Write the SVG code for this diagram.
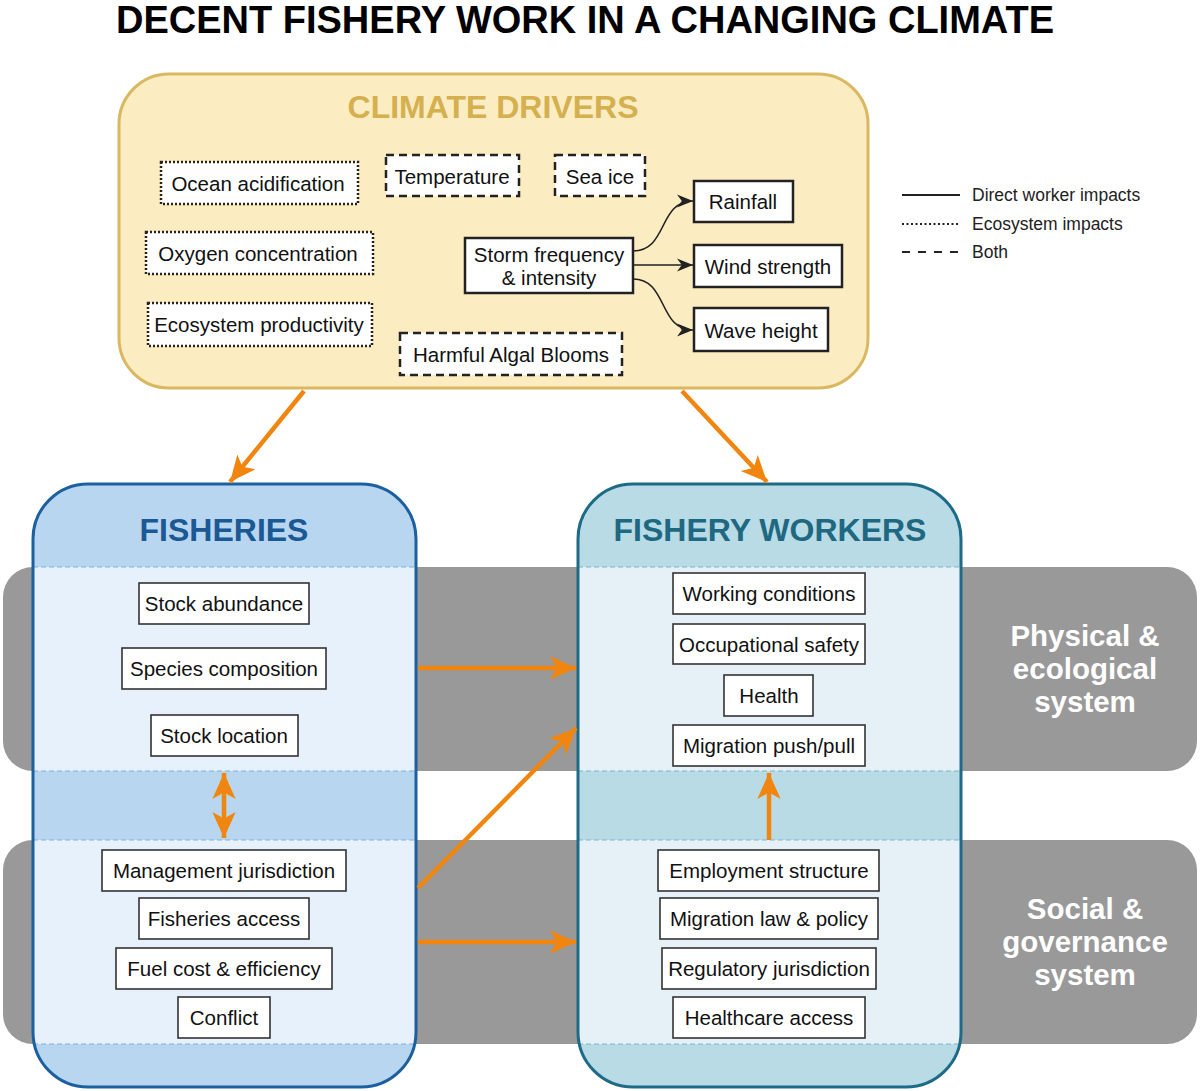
<svg xmlns="http://www.w3.org/2000/svg" width="1200" height="1091" viewBox="0 0 1200 1091">
<defs>
<style>
text{font-family:"Liberation Sans",Arial,sans-serif;}
.t{font-size:20.5px;fill:#111;text-anchor:middle;dominant-baseline:central;}
.lg{font-size:17.5px;fill:#222;dominant-baseline:central;}
.box{fill:#fff;stroke:#222;stroke-width:2.5;}
.dot{fill:#fff;stroke:#222;stroke-width:2.5;stroke-dasharray:2 2;}
.dash{fill:#fff;stroke:#222;stroke-width:2.5;stroke-dasharray:8 5;}
.ib{fill:#fff;stroke:#333;stroke-width:1.6;}
.band{fill:#999999;}
.bt{font-size:29.5px;font-weight:bold;fill:#fff;text-anchor:middle;}
.sep{stroke-width:1.2;stroke-dasharray:5 3;fill:none;}
.oa{stroke:#f0860f;stroke-width:4.5;fill:none;}
.ka{stroke:#222;stroke-width:1.6;fill:none;marker-end:url(#kh);}
.hd{font-size:32px;font-weight:bold;text-anchor:middle;dominant-baseline:central;}
</style>
<marker id="oh" viewBox="0 0 10 10" refX="10" refY="5" markerUnits="userSpaceOnUse" markerWidth="26" markerHeight="26" orient="auto-start-reverse">
<path d="M0,0.5 L10,5 L0,9.5 L2.5,5 z" fill="#f0860f"/>
</marker>
<marker id="kh" viewBox="0 0 10 10" refX="10" refY="5" markerUnits="userSpaceOnUse" markerWidth="16" markerHeight="16" orient="auto">
<path d="M0,1 L10,5 L0,9 L3,5 z" fill="#222"/>
</marker>
</defs>
<rect width="1200" height="1091" fill="#fff"/>

<text x="585" y="20" font-size="38" font-weight="bold" text-anchor="middle" fill="#000" dominant-baseline="central">DECENT FISHERY WORK IN A CHANGING CLIMATE</text>

<g id="bands">
<rect class="band" x="3" y="567" width="1194" height="204" rx="30"/>
<rect class="band" x="3" y="840" width="1194" height="204" rx="30"/>
<text class="bt" x="1085" y="646">Physical &amp;</text>
<text class="bt" x="1085" y="679">ecological</text>
<text class="bt" x="1085" y="712">system</text>
<text class="bt" x="1085" y="919">Social &amp;</text>
<text class="bt" x="1085" y="952">governance</text>
<text class="bt" x="1085" y="985">system</text>
</g>

<g id="climate-drivers">
<rect x="119" y="74" width="749" height="314" rx="50" fill="#fcecc2" stroke="#d9b861" stroke-width="3"/>
<text class="hd" x="493" y="107" fill="#d4b04f">CLIMATE DRIVERS</text>
</g>
<g id="ocean-acidification"><rect class="dot" x="161" y="162" width="197" height="42"/><text class="t" x="258" y="183">Ocean acidification</text></g>
<g id="temperature"><rect class="dash" x="386" y="155" width="133" height="41"/><text class="t" x="452" y="176">Temperature</text></g>
<g id="sea-ice"><rect class="dash" x="555" y="155" width="90" height="41"/><text class="t" x="600" y="176">Sea ice</text></g>
<g id="oxygen-concentration"><rect class="dot" x="146" y="232" width="227" height="42"/><text class="t" x="258" y="253">Oxygen concentration</text></g>
<g id="ecosystem-productivity"><rect class="dot" x="148" y="303" width="224" height="43"/><text class="t" x="259" y="324">Ecosystem productivity</text></g>
<g id="harmful-algal-blooms"><rect class="dash" x="400" y="333" width="222" height="42"/><text class="t" x="511" y="354">Harmful Algal Blooms</text></g>
<g id="storm"><rect class="box" x="465" y="238" width="168" height="55"/><text class="t" x="549" y="254">Storm frequency</text><text class="t" x="549" y="277">&amp; intensity</text></g>
<g id="rainfall"><rect class="box" x="694" y="181" width="99" height="41"/><text class="t" x="743" y="201">Rainfall</text></g>
<g id="wind-strength"><rect class="box" x="694" y="245" width="148" height="42"/><text class="t" x="768" y="266">Wind strength</text></g>
<g id="wave-height"><rect class="box" x="694" y="308" width="134" height="43"/><text class="t" x="761" y="330">Wave height</text></g>

<g id="legend">
<line x1="902" y1="195" x2="960" y2="195" stroke="#222" stroke-width="2.2"/>
<line x1="902" y1="224" x2="960" y2="224" stroke="#222" stroke-width="2.2" stroke-dasharray="2 2.5"/>
<line x1="902" y1="252" x2="960" y2="252" stroke="#222" stroke-width="2.2" stroke-dasharray="8 8"/>
<text class="lg" x="972" y="195">Direct worker impacts</text>
<text class="lg" x="972" y="224">Ecosystem impacts</text>
<text class="lg" x="972" y="252">Both</text>
</g>

<g id="fisheries">
<rect x="33" y="484" width="383" height="603" rx="55" fill="#b9d6f1"/>
<rect x="33" y="567" width="383" height="204" fill="#e6f1fb"/>
<rect x="33" y="840" width="383" height="204" fill="#e6f1fb"/>
<g class="sep" stroke="#7fb0d8">
<line x1="33" y1="567" x2="416" y2="567"/><line x1="33" y1="771" x2="416" y2="771"/>
<line x1="33" y1="840" x2="416" y2="840"/><line x1="33" y1="1044" x2="416" y2="1044"/>
</g>
<rect x="33" y="484" width="383" height="603" rx="55" fill="none" stroke="#1d609f" stroke-width="3"/>
<text class="hd" x="224" y="530" fill="#1a5994">FISHERIES</text>
</g>
<g id="stock-abundance"><rect class="ib" x="139" y="583" width="170" height="41"/><text class="t" x="224" y="603">Stock abundance</text></g>
<g id="species-composition"><rect class="ib" x="122" y="648" width="204" height="41"/><text class="t" x="224" y="668">Species composition</text></g>
<g id="stock-location"><rect class="ib" x="151" y="715" width="147" height="41"/><text class="t" x="224" y="735">Stock location</text></g>
<g id="management-jurisdiction"><rect class="ib" x="102" y="850" width="244" height="41"/><text class="t" x="224" y="870">Management jurisdiction</text></g>
<g id="fisheries-access"><rect class="ib" x="139" y="898" width="170" height="41"/><text class="t" x="224" y="918">Fisheries access</text></g>
<g id="fuel-cost"><rect class="ib" x="116" y="948" width="216" height="41"/><text class="t" x="224" y="968">Fuel cost &amp; efficiency</text></g>
<g id="conflict"><rect class="ib" x="178" y="997" width="92" height="41"/><text class="t" x="224" y="1017">Conflict</text></g>

<g id="fishery-workers">
<rect x="578" y="484" width="383" height="603" rx="55" fill="#b8dbe6"/>
<rect x="578" y="567" width="383" height="204" fill="#e5f1f7"/>
<rect x="578" y="840" width="383" height="204" fill="#e5f1f7"/>
<g class="sep" stroke="#7fb5c8">
<line x1="578" y1="567" x2="961" y2="567"/><line x1="578" y1="771" x2="961" y2="771"/>
<line x1="578" y1="840" x2="961" y2="840"/><line x1="578" y1="1044" x2="961" y2="1044"/>
</g>
<rect x="578" y="484" width="383" height="603" rx="55" fill="none" stroke="#1e6b88" stroke-width="3"/>
<text class="hd" x="770" y="530" fill="#1e6882">FISHERY WORKERS</text>
</g>
<g id="working-conditions"><rect class="ib" x="673" y="573" width="192" height="41"/><text class="t" x="769" y="593">Working conditions</text></g>
<g id="occupational-safety"><rect class="ib" x="673" y="624" width="192" height="40"/><text class="t" x="769" y="644">Occupational safety</text></g>
<g id="health"><rect class="ib" x="724" y="675" width="89" height="41"/><text class="t" x="769" y="695">Health</text></g>
<g id="migration-push-pull"><rect class="ib" x="673" y="725" width="192" height="41"/><text class="t" x="769" y="745">Migration push/pull</text></g>
<g id="employment-structure"><rect class="ib" x="658" y="850" width="221" height="41"/><text class="t" x="769" y="870">Employment structure</text></g>
<g id="migration-law"><rect class="ib" x="660" y="898" width="218" height="41"/><text class="t" x="769" y="918">Migration law &amp; policy</text></g>
<g id="regulatory-jurisdiction"><rect class="ib" x="662" y="948" width="214" height="41"/><text class="t" x="769" y="968">Regulatory jurisdiction</text></g>
<g id="healthcare-access"><rect class="ib" x="673" y="997" width="192" height="41"/><text class="t" x="769" y="1017">Healthcare access</text></g>

<g id="connectors">
<path class="ka" d="M633,251 C668,251 658,201 693,201"/>
<path class="ka" d="M633,265 L693,265"/>
<path class="ka" d="M633,279 C668,279 658,330 693,330"/>
<path class="oa" d="M304,391 L230,482" marker-end="url(#oh)"/>
<path class="oa" d="M682,391 L767,482" marker-end="url(#oh)"/>
<path class="oa" d="M418,668 L576,668" marker-end="url(#oh)"/>
<path class="oa" d="M418,888 L576,728" marker-end="url(#oh)"/>
<path class="oa" d="M418,942 L576,942" marker-end="url(#oh)"/>
<path class="oa" d="M224,773 L224,838" marker-start="url(#oh)" marker-end="url(#oh)"/>
<path class="oa" d="M769,840 L769,773" marker-end="url(#oh)"/>
</g>
</svg>
